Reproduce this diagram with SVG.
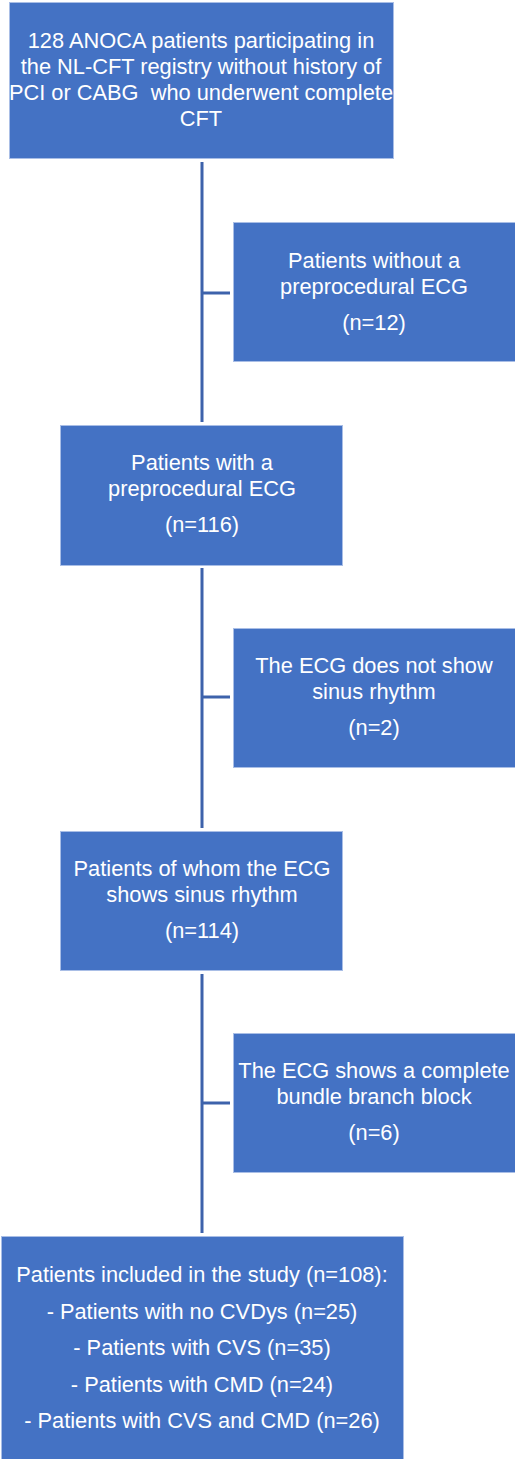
<svg xmlns="http://www.w3.org/2000/svg" width="515" height="1459" viewBox="0 0 515 1459">
<style>
.box{fill:#4472C4;stroke:#A9BEE6;stroke-width:1}
.t{font-family:"Liberation Sans",Arial,sans-serif;font-size:21.8px;fill:#FFFFFF;text-anchor:middle;white-space:pre}
.ln{stroke:#3D62AB;stroke-width:3;fill:none}
</style>
<rect width="515" height="1459" fill="#FFFFFF"/>
<g id="connectors">
<line class="ln" x1="202" y1="162" x2="202" y2="422"/>
<line class="ln" x1="202" y1="293" x2="230" y2="293"/>
<line class="ln" x1="202" y1="568" x2="202" y2="828"/>
<line class="ln" x1="202" y1="697" x2="230" y2="697"/>
<line class="ln" x1="202" y1="974" x2="202" y2="1233"/>
<line class="ln" x1="202" y1="1103" x2="230" y2="1103"/>
</g>
<g id="n1">
<rect class="box" x="9.5" y="2.5" width="384" height="156"/>
<text class="t" x="201" y="48">128 ANOCA patients participating in</text>
<text class="t" x="201" y="74">the NL-CFT registry without history of</text>
<text class="t" x="201" y="100">PCI or CABG  who underwent complete</text>
<text class="t" x="201" y="126">CFT</text>
</g>
<g id="n2">
<rect class="box" x="233.5" y="222.5" width="282" height="139"/>
<text class="t" x="374" y="268">Patients without a</text>
<text class="t" x="374" y="294">preprocedural ECG</text>
<text class="t" x="374" y="330">(n=12)</text>
</g>
<g id="n3">
<rect class="box" x="60.5" y="425.5" width="282" height="140"/>
<text class="t" x="202" y="470">Patients with a</text>
<text class="t" x="202" y="496">preprocedural ECG</text>
<text class="t" x="202" y="532">(n=116)</text>
</g>
<g id="n4">
<rect class="box" x="233.5" y="628.5" width="282" height="139"/>
<text class="t" x="374" y="673">The ECG does not show</text>
<text class="t" x="374" y="699">sinus rhythm</text>
<text class="t" x="374" y="735">(n=2)</text>
</g>
<g id="n5">
<rect class="box" x="60.5" y="831.5" width="282" height="139"/>
<text class="t" x="202" y="876">Patients of whom the ECG</text>
<text class="t" x="202" y="902">shows sinus rhythm</text>
<text class="t" x="202" y="938">(n=114)</text>
</g>
<g id="n6">
<rect class="box" x="233.5" y="1033.5" width="282" height="139"/>
<text class="t" x="374" y="1078">The ECG shows a complete</text>
<text class="t" x="374" y="1104">bundle branch block</text>
<text class="t" x="374" y="1140">(n=6)</text>
</g>
<g id="n7">
<rect class="box" x="1.5" y="1236.5" width="402" height="224"/>
<text class="t" x="202" y="1282">Patients included in the study (n=108):</text>
<text class="t" x="202" y="1319">- Patients with no CVDys (n=25)</text>
<text class="t" x="202" y="1355">- Patients with CVS (n=35)</text>
<text class="t" x="202" y="1392">- Patients with CMD (n=24)</text>
<text class="t" x="202" y="1428">- Patients with CVS and CMD (n=26)</text>
</g>
</svg>
